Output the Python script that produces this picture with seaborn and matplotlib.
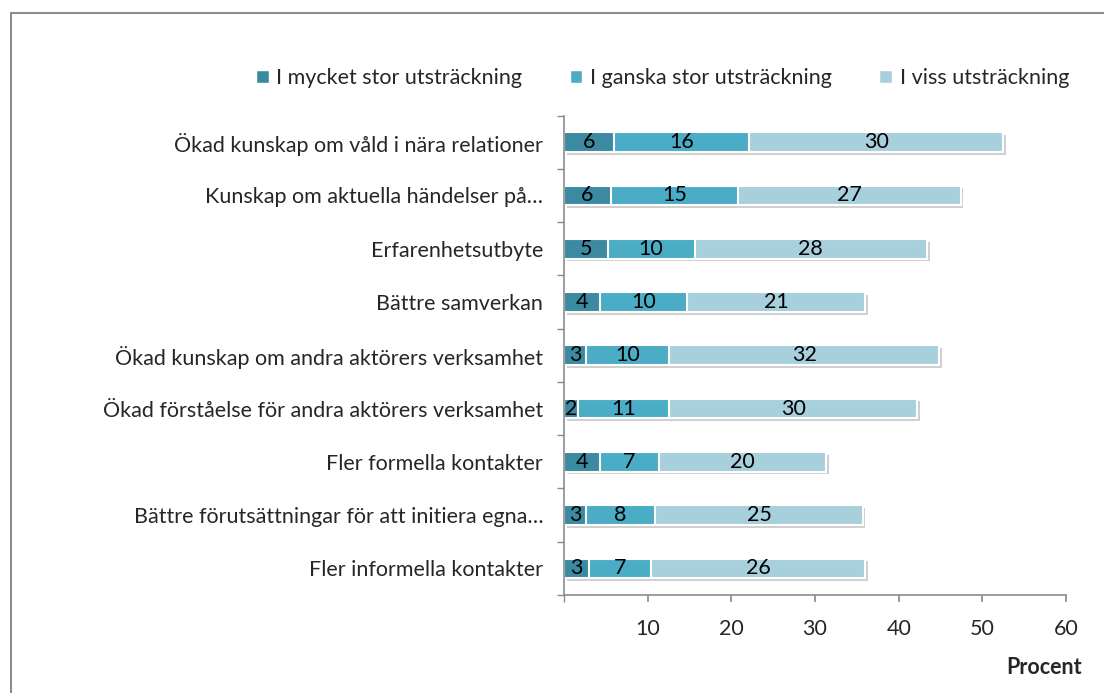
import numpy as np
import pandas as pd
import matplotlib
matplotlib.use("Agg")
import matplotlib.pyplot as plt
import matplotlib.patheffects as pe
from matplotlib.lines import Line2D
from matplotlib.patches import Patch
import seaborn as sns

categories = [
    "Ökad kunskap om våld i nära relationer",
    "Kunskap om aktuella händelser på…",
    "Erfarenhetsutbyte",
    "Bättre samverkan",
    "Ökad kunskap om andra aktörers verksamhet",
    "Ökad förståelse för andra aktörers verksamhet",
    "Fler formella kontakter",
    "Bättre förutsättningar för att initiera egna…",
    "Fler informella kontakter",
]
mycket_stor = [6.0, 5.6, 5.2, 4.3, 2.6, 1.7, 4.3, 2.6, 3.0]
ganska_stor = [16.1, 15.2, 10.4, 10.4, 10.0, 10.9, 7.0, 8.3, 7.4]
viss = [30.4, 26.6, 27.8, 21.3, 32.2, 29.6, 20.0, 24.8, 25.6]
series_names = ["I mycket stor utsträckning", "I ganska stor utsträckning", "I viss utsträckning"]
colors = ["#3b8aa2", "#4bacc6", "#a8cfdc"]
xticks = [10, 20, 30, 40, 50, 60]

sns.set_theme(style="white")
plt.rcParams["font.family"] = ["Lato", "DejaVu Sans"]
plt.rcParams["axes.edgecolor"] = "#8c8c8c"
fs = 15.5

df = pd.DataFrame({"kat": categories, "s1": mycket_stor, "s2": ganska_stor, "s3": viss})
df["c1"] = df.s1
df["c2"] = df.s1 + df.s2
df["c3"] = df.s1 + df.s2 + df.s3

fig = plt.figure(figsize=(11.04, 6.93), dpi=100)
ax = fig.add_axes([0.5109, 0.1414, 0.4547, 0.6919])

# stacked bars drawn as overlapping cumulative bars (widest first)
for col, c in zip(["c3", "c2", "c1"], colors[::-1]):
    sns.barplot(data=df, x=col, y="kat", orient="h", color=c, width=0.37,
                edgecolor="white", linewidth=1.5, saturation=1, ax=ax)

shadow = [pe.SimplePatchShadow(offset=(2, -2), shadow_rgbFace="#b0b0b0", alpha=0.6), pe.Normal()]
for p in ax.patches[:len(categories)]:
    p.set_path_effects(shadow)

# labels centred in each segment
for i in range(len(categories)):
    left = 0
    for s in ["s1", "s2", "s3"]:
        v = df[s][i]
        ax.text(left + v / 2, i, "%.0f" % v, ha="center", va="center", fontsize=fs, color="black")
        left += v

ax.set_xlim(0, 60)
ax.set_ylim(8.5, -0.5)
ax.set_xticks(xticks)
ax.set_xticks([0], minor=True)
ax.tick_params(axis="x", which="both", direction="out", length=5, color="#8c8c8c",
               bottom=True, labelsize=fs, pad=12)
ax.set_yticks(np.arange(-0.5, 9, 1), minor=True)
ax.tick_params(axis="y", which="major", length=0, labelsize=fs, pad=15)
ax.tick_params(axis="y", which="minor", direction="out", length=5, color="#8c8c8c", left=True)
ax.set_xlabel("")
ax.set_ylabel("")
for s in ["top", "right"]:
    ax.spines[s].set_visible(False)
ax.spines["left"].set_linewidth(1.2)
ax.spines["bottom"].set_linewidth(1.2)

fig.text(1006 / 1104, 1 - 667 / 693, "Procent", fontsize=fs, fontweight="bold", va="center", ha="left")

handles = [Patch(facecolor=c, edgecolor="white") for c in colors]
fig.legend(handles, series_names, loc="center", bbox_to_anchor=(0.6, 1 - 78 / 693), ncol=3,
           frameon=False, fontsize=fs, handlelength=0.6, handleheight=0.6,
           handletextpad=0.35, columnspacing=2.2)

# outer chart border
fig.add_artist(Line2D([11 / 1104, 11 / 1104], [0, 1 - 13 / 693], transform=fig.transFigure,
                      color="#8c8c8c", linewidth=1.5))
fig.add_artist(Line2D([11 / 1104, 1], [1 - 13 / 693, 1 - 13 / 693], transform=fig.transFigure,
                      color="#8c8c8c", linewidth=1.5))

fig.savefig("out.png", dpi=100)
